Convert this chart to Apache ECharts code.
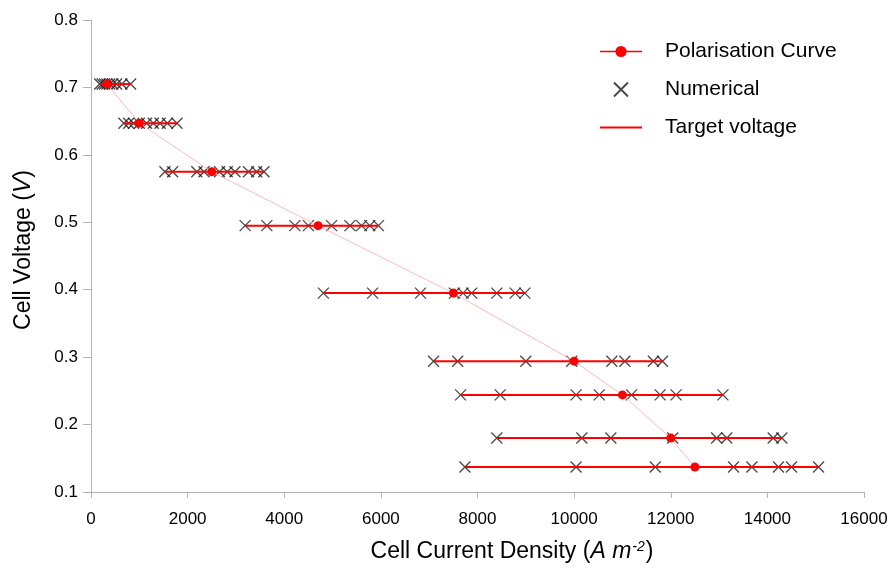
<!DOCTYPE html>
<html>
<head>
<meta charset="utf-8">
<script src="https://cdn.jsdelivr.net/npm/echarts@6/dist/echarts.min.js"></script>
<style>html,body{margin:0;padding:0;background:#fff}#c{width:893px;height:568px}</style>
</head>
<body>
<div id="c"></div>
<script>
// Target voltages (V) for each operating point
const targetV = [0.705, 0.647, 0.575, 0.495, 0.395, 0.294, 0.244, 0.180, 0.137];
// Polarisation curve current densities (A m^-2)
const polX = [330, 1000, 2500, 4700, 7500, 10000, 11000, 12000, 12500];
// Numerical results: current densities at each target voltage
const num1 = [180, 230, 280, 330, 390, 450, 530, 640, 820];
const num2 = [680, 780, 880, 1000, 1150, 1290, 1430, 1580, 1780];
const num3 = [1530, 1690, 2190, 2340, 2660, 2820, 2980, 3260, 3430, 3580];
const num4 = [3190, 3640, 4220, 4500, 4980, 5360, 5600, 5770, 5950];
const num5 = [4810, 5830, 6820, 7520, 7700, 7880, 8400, 8780, 8980];
const num6 = [7090, 7590, 9000, 9950, 10780, 11050, 11640, 11830];
const num7 = [7650, 8470, 10040, 10520, 11190, 11780, 12110, 13080];
const num8 = [8400, 10160, 10760, 12040, 12950, 13160, 14120, 14300];
const num9 = [7740, 10040, 11680, 13300, 13680, 14230, 14500, 15060];
const numRows = [num1, num2, num3, num4, num5, num6, num7, num8, num9];

const FONT = 'Liberation Sans, Arial, sans-serif';
const chart = echarts.init(document.getElementById('c'), null, {renderer: 'canvas'});

const numData = [];
numRows.forEach((row, i) => row.forEach(x => numData.push([x, targetV[i]])));

const targetSeries = numRows.map((row, i) => ({
  name: 'Target voltage',
  type: 'line',
  data: [[Math.min(...row), targetV[i]], [Math.max(...row), targetV[i]]],
  showSymbol: false,
  symbol: 'none',
  lineStyle: {color: '#ff0000', width: 2},
  itemStyle: {color: '#ff0000'},
  z: 3,
  silent: true,
  animation: false
}));

const cross = 'path://M0,0L10,10M10,0L0,10';

const option = {
  animation: false,
  textStyle: {fontFamily: FONT},
  grid: {left: 91, right: 29, top: 20, bottom: 75},
  legend: {
    orient: 'vertical',
    left: 594,
    top: 36,
    itemWidth: 42,
    itemHeight: 14,
    itemGap: 17,
    textStyle: {fontSize: 21, color: '#000', fontFamily: FONT, padding: [0, 0, 0, 18]},
    data: [
      {name: 'Polarisation Curve', itemStyle: {color: '#ff0000'}, lineStyle: {color: '#ff0000', width: 1.5}},
      {name: 'Numerical'},
      {name: 'Target voltage', itemStyle: {opacity: 0, color: 'rgba(0,0,0,0)', borderWidth: 0}, lineStyle: {color: '#ff0000', width: 2, opacity: 1}}
    ]
  },
  xAxis: {
    type: 'value',
    min: 0, max: 16000, interval: 2000,
    splitLine: {show: false},
    axisLine: {lineStyle: {color: '#b3b3b3'}},
    axisTick: {show: true, length: 6, lineStyle: {color: '#b3b3b3'}},
    axisLabel: {color: '#000', fontSize: 17, margin: 19, fontFamily: FONT, formatter: v => String(v)},
    name: '{a|Cell Current Density (}{i|A m}{s|-2}{a|)}',
    nameLocation: 'middle',
    nameGap: 48,
    nameTextStyle: {
      padding: [0, 0, 0, 69],
      rich: {
        a: {fontSize: 23, color: '#000', fontFamily: FONT},
        i: {fontSize: 23, color: '#000', fontStyle: 'italic', fontFamily: FONT},
        s: {fontSize: 14, color: '#000', fontStyle: 'italic', fontFamily: FONT, verticalAlign: 'top', padding: [0, 1, 0, 1]}
      }
    }
  },
  yAxis: {
    type: 'value',
    min: 0.1, max: 0.8, interval: 0.1,
    splitLine: {show: false},
    axisLine: {show: true, lineStyle: {color: '#b3b3b3'}},
    axisTick: {show: true, length: 8, lineStyle: {color: '#b3b3b3'}},
    axisLabel: {color: '#000', fontSize: 17, margin: 13, fontFamily: FONT, formatter: v => v.toFixed(1)},
    name: '{a|Cell Voltage (}{i|V}{a|)}',
    nameLocation: 'middle',
    nameGap: 56,
    nameTextStyle: {
      padding: [0, 0, 0, 12],
      rich: {
        a: {fontSize: 23, color: '#000', fontFamily: FONT},
        i: {fontSize: 23, color: '#000', fontStyle: 'italic', fontFamily: FONT}
      }
    }
  },
  series: [
    {
      name: 'Numerical',
      type: 'scatter',
      data: numData,
      symbol: cross,
      symbolSize: 11,
      symbolKeepAspect: true,
      itemStyle: {color: 'transparent', borderColor: '#1a1a1a', borderWidth: 1.3},
      z: 2,
      silent: true
    },
    ...targetSeries,
    {
      name: 'Polarisation Curve',
      type: 'line',
      data: polX.map((x, i) => [x, targetV[i]]),
      symbol: 'circle',
      symbolSize: 9,
      showAllSymbol: true,
      lineStyle: {color: '#ffb8b8', width: 1},
      itemStyle: {color: '#ff0000'},
      z: 5,
      silent: true
    }
  ]
};
chart.setOption(option);
</script>
</body>
</html>
